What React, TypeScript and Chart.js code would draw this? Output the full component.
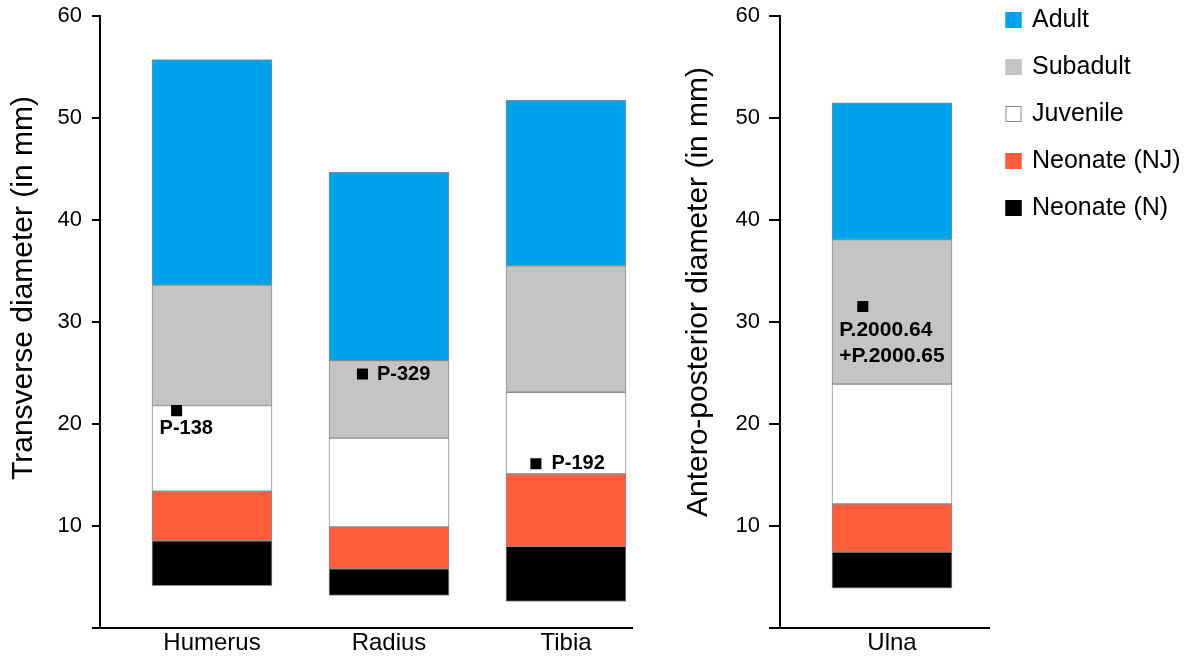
import { useEffect, useRef } from 'react';
import { Chart, registerables } from 'chart.js';

Chart.register(...registerables);

const FONT = '"Liberation Sans", Arial, Helvetica, sans-serif';

// ---- data ----
const bones = ['Humerus', 'Radius', 'Tibia', 'Ulna'];
const leftPanelBones = [0, 1, 2];
const rightPanelBones = [3];

const seriesNames = ['Neonate (N)', 'Neonate (NJ)', 'Juvenile', 'Subadult', 'Adult'];
const seriesColors = ['#000000', '#FE5E3B', '#FFFFFF', '#C3C5C3', '#00A3EB'];

// class boundaries in mm (per bone: Humerus, Radius, Tibia, Ulna)
const neonateNMin = [4.15, 3.2, 2.6, 3.9];
const neonateNMax = [8.55, 5.8, 8.0, 7.45];
const neonateNJMax = [13.4, 9.9, 15.1, 12.15];
const juvenileMax = [21.8, 18.6, 23.1, 23.9];
const subadultMax = [33.6, 26.2, 35.5, 38.05];
const adultMax = [55.7, 44.65, 51.7, 51.45];

// specimens
const markerBone = [0, 1, 2, 3];
const markerShift = [-0.2, -0.15, -0.17, -0.165];
const markerValue = [21.3, 24.9, 16.1, 31.5];
const markerLabels = [['P-138'], ['P-329'], ['P-192'], ['P.2000.64', '+P.2000.65']];

const yTicks = [0, 10, 20, 30, 40, 50, 60];

// ---- styling (label placement relative to marker, px) ----
const labelPlacement = [
  { dx: -17, dy: 18, font: 20 },
  { dx: 14.5, dy: 0.5, font: 20 },
  { dx: 15.5, dy: -0.5, font: 20 },
  { dx: -23.5, dy: 24, font: 21 },
];

const bounds = [neonateNMin, neonateNMax, neonateNJMax, juvenileMax, subadultMax, adultMax];

function axisTitlePlugin(text: string, x: number, y: number) {
  return {
    id: 'axisTitleCustom',
    afterDraw(chart: any) {
      const ctx = chart.ctx;
      ctx.save();
      ctx.translate(x, y);
      ctx.rotate(-Math.PI / 2);
      ctx.fillStyle = '#000';
      ctx.font = `30px ${FONT}`;
      ctx.textAlign = 'center';
      ctx.textBaseline = 'alphabetic';
      ctx.fillText(text, 0, 0);
      ctx.restore();
    },
  };
}

const markerLabelPlugin = {
  id: 'markerLabels',
  afterDatasetsDraw(chart: any) {
    const ctx = chart.ctx;
    chart.data.datasets.forEach((ds: any, di: number) => {
      if (ds.type !== 'scatter') return;
      const meta = chart.getDatasetMeta(di);
      meta.data.forEach((pt: any, i: number) => {
        const mi = ds.markerIndex[i];
        const pl = labelPlacement[mi];
        ctx.save();
        ctx.fillStyle = '#000';
        ctx.font = `bold ${pl.font}px ${FONT}`;
        ctx.textAlign = 'left';
        ctx.textBaseline = 'middle';
        markerLabels[mi].forEach((line, li) => {
          ctx.fillText(line, pt.x + pl.dx, pt.y + pl.dy + li * 26);
        });
        ctx.restore();
      });
    });
  },
};

const legendPlugin = {
  id: 'sideLegend',
  afterDraw(chart: any) {
    const ctx = chart.ctx;
    const boxX = 345.5;
    const textX = 372;
    const firstY = 20;
    const step = 47;
    ctx.save();
    ctx.font = `25px ${FONT}`;
    ctx.textAlign = 'left';
    ctx.textBaseline = 'middle';
    const order = [...seriesNames.keys()].reverse();
    order.forEach((s, k) => {
      const cy = firstY + k * step;
      ctx.fillStyle = seriesColors[s];
      ctx.fillRect(boxX, cy - 8, 16, 16);
      ctx.strokeStyle = s === 2 ? '#8a8a8a' : seriesColors[s];
      ctx.lineWidth = 1;
      ctx.strokeRect(boxX + 0.5, cy - 7.5, 15, 15);
      ctx.fillStyle = '#000';
      ctx.fillText(seriesNames[s], textX, cy);
    });
    ctx.restore();
  },
};

function makeConfig(
  panel: number[],
  xMin: number,
  xMax: number,
  yWidth: number,
  tickLen: number,
  tickPad: number,
  padRight: number,
  plugins: any[]
): any {
  const names = panel.map((b) => bones[b]);
  const datasets: any[] = seriesNames.map((name, s) => ({
    type: 'bar',
    label: name,
    data: panel.map((b, j) => ({ x: j, y: [bounds[s][b], bounds[s + 1][b]] })),
    backgroundColor: seriesColors[s],
    borderColor: '#8c8c8c',
    borderWidth: 1,
    borderSkipped: false,
    barThickness: 120,
    grouped: false,
    order: 1,
  }));
  const mIdx = markerBone.map((b, i) => i).filter((i) => panel.includes(markerBone[i]));
  datasets.push({
    type: 'scatter',
    label: 'Specimens',
    markerIndex: mIdx,
    data: mIdx.map((i) => ({ x: panel.indexOf(markerBone[i]) + markerShift[i], y: markerValue[i] })),
    pointStyle: 'rect',
    pointRadius: 7.8,
    pointHoverRadius: 7.8,
    backgroundColor: '#000',
    borderColor: '#000',
    borderWidth: 0,
    order: -1,
  });

  return {
    type: 'bar',
    data: { datasets },
    options: {
      responsive: false,
      animation: false,
      devicePixelRatio: 1,
      events: [],
      layout: { padding: { left: 0, right: padRight, top: 15.7, bottom: 0 } },
      plugins: { legend: { display: false }, tooltip: { enabled: false }, title: { display: false } },
      scales: {
        x: {
          type: 'linear',
          min: xMin,
          max: xMax,
          offset: false,
          grid: { display: false, drawTicks: false, offset: false },
          border: { display: true, color: '#000', width: 2 },
          ticks: {
            padding: 1,
            color: '#000',
            font: { size: 24, family: FONT },
            autoSkip: false,
            maxRotation: 0,
            callback: (v: number) => names[v] ?? '',
          },
          afterBuildTicks: (scale: any) => {
            scale.ticks = names.map((_, i) => ({ value: i }));
          },
          afterFit: (scale: any) => {
            scale.height = 31;
            scale.paddingLeft = 0;
            scale.paddingRight = 0;
          },
        },
        y: {
          type: 'linear',
          min: 0,
          max: 60,
          afterBuildTicks: (scale: any) => {
            scale.ticks = yTicks.map((v) => ({ value: v }));
          },
          ticks: {
            padding: tickPad,
            color: '#000',
            font: { size: 22, family: FONT },
            callback: (v: number) => (v === 0 ? '' : String(v)),
          },
          grid: {
            display: true,
            drawOnChartArea: false,
            drawTicks: true,
            tickLength: tickLen,
            color: '#000',
            lineWidth: 2,
          },
          border: { display: true, color: '#000', width: 2 },
          afterFit: (scale: any) => {
            scale.width = yWidth;
            scale.paddingTop = 0;
            scale.paddingBottom = 0;
          },
        },
      },
    },
    plugins,
  };
}

export default function App() {
  const leftRef = useRef<HTMLCanvasElement>(null);
  const rightRef = useRef<HTMLCanvasElement>(null);

  useEffect(() => {
    const k = 177; // px per category step
    const left = new Chart(
      leftRef.current as HTMLCanvasElement,
      makeConfig(
        leftPanelBones,
        -112 / k,
        -112 / k + 532 / k,
        100,
        8,
        10,
        28,
        [axisTitlePlugin('Transverse diameter (in mm)', 31.7, 288), markerLabelPlugin]
      )
    );
    const right = new Chart(
      rightRef.current as HTMLCanvasElement,
      makeConfig(
        rightPanelBones,
        -112 / k,
        -112 / k + 209 / k,
        120,
        11,
        9,
        198,
        [axisTitlePlugin('Antero-posterior diameter (in mm)', 47, 292), markerLabelPlugin, legendPlugin]
      )
    );
    return () => {
      left.destroy();
      right.destroy();
    };
  }, []);

  return (
    <div style={{ position: 'absolute', left: 0, top: 0, width: 1187, height: 659, background: '#fff' }}>
      <canvas ref={leftRef} width={660} height={659} style={{ position: 'absolute', left: 0, top: 0, display: 'block' }} />
      <canvas ref={rightRef} width={527} height={659} style={{ position: 'absolute', left: 660, top: 0, display: 'block' }} />
    </div>
  );
}
